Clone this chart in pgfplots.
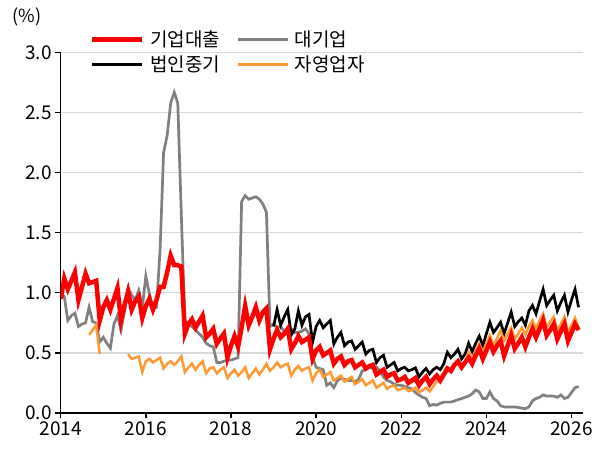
\documentclass[border=0pt]{standalone}
\usepackage{fontspec}
\setmainfont{Noto Sans CJK KR}
\usepackage{pgfplots}
\usepackage{pgfplotstable}
\pgfplotsset{compat=1.18}
\usetikzlibrary{calc}

\definecolor{gridgray}{RGB}{217,217,217}
\definecolor{lineorange}{RGB}{255,153,51}
\definecolor{linegray}{RGB}{128,128,128}

% month index m (0 = Jan 2014), delinquency rate in %
\pgfplotstableread{
m v
0 0.95
1 1.12
2 1.03
3 1.10
4 1.17
5 0.94
6 1.05
7 1.16
8 1.08
9 1.09
10 1.10
11 0.77
12 0.88
13 0.94
14 0.86
15 0.95
16 1.04
17 0.77
18 0.90
19 1.01
20 0.86
21 0.93
22 0.97
23 0.79
24 0.89
25 0.95
26 0.86
27 0.94
28 1.05
29 1.05
30 1.17
31 1.31
32 1.23
33 1.23
34 1.22
35 0.66
36 0.74
37 0.78
38 0.71
39 0.76
40 0.81
41 0.63
42 0.66
43 0.70
44 0.575
45 0.62
46 0.66
47 0.46
48 0.56
49 0.64
50 0.55
51 0.71
52 0.89
53 0.73
54 0.80
55 0.88
56 0.77
57 0.84
58 0.87
59 0.53
60 0.62
61 0.69
62 0.63
63 0.66
64 0.70
65 0.53
66 0.58
67 0.64
68 0.59
69 0.61
70 0.63
71 0.45
72 0.52
73 0.55
74 0.48
75 0.50
76 0.52
77 0.41
78 0.45
79 0.47
80 0.40
81 0.43
82 0.44
83 0.38
84 0.40
85 0.42
86 0.37
87 0.39
88 0.40
89 0.32
90 0.34
91 0.36
92 0.30
93 0.32
94 0.33
95 0.27
96 0.28
97 0.30
98 0.25
99 0.27
100 0.29
101 0.23
102 0.27
103 0.30
104 0.24
105 0.28
106 0.31
107 0.27
108 0.32
109 0.37
110 0.35
111 0.40
112 0.43
113 0.38
114 0.42
115 0.46
116 0.41
117 0.48
118 0.535
119 0.45
120 0.52
121 0.59
122 0.51
123 0.56
124 0.60
125 0.475
126 0.56
127 0.645
128 0.535
129 0.58
130 0.63
131 0.55
132 0.63
133 0.70
134 0.63
135 0.70
136 0.77
137 0.645
138 0.69
139 0.74
140 0.615
141 0.68
142 0.74
143 0.60
144 0.67
145 0.74
146 0.69
}\redtab

\pgfplotstableread{
m v
0 0.99
1 0.97
2 0.77
3 0.81
4 0.83
5 0.72
6 0.74
7 0.75
8 0.88
9 0.76
10 0.75
11 0.59
12 0.63
13 0.58
14 0.54
15 0.74
16 0.81
17 0.69
18 0.85
19 1.04
20 0.98
21 0.94
22 1.02
23 0.88
24 1.14
25 0.99
26 0.88
27 0.88
28 1.35
29 2.17
30 2.31
31 2.58
32 2.67
33 2.58
34 1.65
35 0.77
36 0.74
37 0.72
38 0.69
39 0.66
40 0.63
41 0.58
42 0.56
43 0.55
44 0.42
45 0.42
46 0.43
47 0.44
48 0.44
49 0.45
50 0.46
51 1.76
52 1.81
53 1.78
54 1.79
55 1.80
56 1.78
57 1.74
58 1.67
59 0.72
60 0.74
61 0.71
62 0.72
63 0.68
64 0.66
65 0.70
66 0.67
67 0.67
68 0.68
69 0.70
70 0.66
71 0.46
72 0.38
73 0.37
74 0.36
75 0.23
76 0.25
77 0.21
78 0.27
79 0.29
80 0.28
81 0.27
82 0.27
83 0.26
84 0.28
85 0.35
86 0.36
87 0.38
88 0.37
89 0.38
90 0.35
91 0.30
92 0.27
93 0.26
94 0.24
95 0.23
96 0.23
97 0.22
98 0.21
99 0.20
100 0.17
101 0.15
102 0.13
103 0.12
104 0.06
105 0.07
106 0.065
107 0.08
108 0.09
109 0.09
110 0.09
111 0.10
112 0.11
113 0.12
114 0.13
115 0.14
116 0.16
117 0.19
118 0.175
119 0.12
120 0.12
121 0.175
122 0.12
123 0.10
124 0.06
125 0.05
126 0.05
127 0.05
128 0.05
129 0.045
130 0.04
131 0.035
132 0.05
133 0.10
134 0.12
135 0.13
136 0.15
137 0.14
138 0.14
139 0.14
140 0.13
141 0.15
142 0.12
143 0.13
144 0.17
145 0.21
146 0.22
}\graytab

\pgfplotstableread{
m v
60 0.72
61 0.86
62 0.73
63 0.80
64 0.86
65 0.65
66 0.70
67 0.85
68 0.73
69 0.80
70 0.82
71 0.59
72 0.72
73 0.77
74 0.71
75 0.74
76 0.77
77 0.575
78 0.63
79 0.67
80 0.56
81 0.59
82 0.60
83 0.53
84 0.56
85 0.59
86 0.49
87 0.52
88 0.53
89 0.42
90 0.46
91 0.48
92 0.38
93 0.40
94 0.42
95 0.35
96 0.37
97 0.38
98 0.35
99 0.36
100 0.375
101 0.30
102 0.34
103 0.37
104 0.325
105 0.36
106 0.38
107 0.36
108 0.41
109 0.505
110 0.46
111 0.49
112 0.53
113 0.45
114 0.49
115 0.58
116 0.51
117 0.58
118 0.64
119 0.56
120 0.66
121 0.755
122 0.67
123 0.71
124 0.755
125 0.66
126 0.75
127 0.84
128 0.72
129 0.76
130 0.79
131 0.73
132 0.85
133 0.895
134 0.825
135 0.93
136 1.03
137 0.895
138 0.94
139 0.98
140 0.85
141 0.92
142 0.98
143 0.84
144 0.94
145 1.03
146 0.88
}\blacktab

\pgfplotstableread{
m v
8 0.65
9 0.69
10 0.73
11 0.49
15 nan
19 0.49
20 0.45
21 0.46
22 0.47
23 0.34
24 0.43
25 0.45
26 0.42
27 0.44
28 0.46
29 0.37
30 0.41
31 0.43
32 0.40
33 0.43
34 0.47
35 0.34
36 0.38
37 0.41
38 0.36
39 0.40
40 0.43
41 0.33
42 0.37
43 0.38
44 0.33
45 0.36
46 0.38
47 0.29
48 0.33
49 0.36
50 0.31
51 0.34
52 0.38
53 0.29
54 0.33
55 0.37
56 0.32
57 0.36
58 0.41
59 0.35
60 0.38
61 0.42
62 0.38
63 0.40
64 0.41
65 0.31
66 0.36
67 0.39
68 0.35
69 0.37
70 0.38
71 0.27
72 0.33
73 0.36
74 0.30
75 0.32
76 0.34
77 0.27
78 0.29
79 0.31
80 0.26
81 0.28
82 0.30
83 0.24
84 0.26
85 0.28
86 0.23
87 0.25
88 0.27
89 0.21
90 0.23
91 0.25
92 0.20
93 0.22
94 0.23
95 0.19
96 0.20
97 0.21
98 0.18
99 0.19
100 0.21
101 0.17
102 0.19
103 0.21
104 0.18
105 0.22
106 0.26
107 0.27
108 0.31
109 0.36
110 0.36
111 0.39
112 0.42
113 0.40
114 0.43
115 0.505
116 0.45
117 0.52
118 0.575
119 0.505
120 0.58
121 0.645
122 0.56
123 0.62
124 0.685
125 0.60
126 0.66
127 0.71
128 0.615
129 0.66
130 0.71
131 0.655
132 0.72
133 0.77
134 0.70
135 0.77
136 0.825
137 0.71
138 0.76
139 0.80
140 0.685
141 0.74
142 0.80
143 0.67
144 0.73
145 0.79
146 0.70
}\orangetab

\begin{document}
\begin{tikzpicture}
\begin{axis}[
    name=ax,
    scale only axis,
    width=522pt, height=360pt,
    xmin=2014, xmax=2026.27,
    ymin=0, ymax=3,
    axis x line*=bottom, axis y line*=left,
    axis line style={black, line width=1.3pt},
    xtick={2014,2016,...,2026},
    ytick={0,0.5,1,1.5,2,2.5,3},
    ymajorgrids,
    grid style={gridgray, line width=1.3pt},
    tick align=outside,
    major tick length=5.5pt,
    tick style={black, line width=1.3pt},
    /pgf/number format/assume math mode=true,
    x tick label style={/pgf/number format/1000 sep={}},
    y tick label style={/pgf/number format/.cd, fixed, fixed zerofill, precision=1},
    tick label style={font=\fontsize{19}{21}\selectfont},
    unbounded coords=jump,
    legend columns=2,
    legend cell align=left,
    legend image code/.code={\draw[#1] (0pt,0pt) -- (50pt,0pt);},
    legend style={draw=none, fill=none, inner sep=0pt,
        at={(axis description cs:0.056,1.066)}, anchor=north west,
        font=\fontsize{19}{21}\selectfont,
        nodes={inner sep=1.5pt},
        row sep=5pt,
        /tikz/every odd column/.append style={column sep=4pt},
        /tikz/every even column/.append style={column sep=15pt}},
]
\addlegendimage{red, line width=4.5pt}
\addlegendentry{기업대출}
\addlegendimage{linegray, line width=2.7pt}
\addlegendentry{대기업}
\addlegendimage{black, line width=2.7pt}
\addlegendentry{법인중기}
\addlegendimage{lineorange, line width=2.5pt}
\addlegendentry{자영업자}

\addplot[forget plot, linegray, line width=2.7pt] table[x expr=2014+\thisrow{m}/12, y=v] {\graytab};
\addplot[forget plot, black, line width=2.7pt] table[x expr=2014+\thisrow{m}/12, y=v] {\blacktab};
\addplot[forget plot, lineorange, line width=2.5pt] table[x expr=2014+\thisrow{m}/12, y=v] {\orangetab};
\addplot[forget plot, red, line width=4.5pt] table[x expr=2014+\thisrow{m}/12, y=v] {\redtab};
\end{axis}
\node[font=\fontsize{18}{20}\selectfont] at ($(ax.north west)+(-34pt,36pt)$) {(\%)};
\pgfresetboundingbox
\path[use as bounding box] ($(ax.south west)+(-60.7pt,-37.3pt)$) rectangle ($(ax.north east)+(15pt,52.7pt)$);
\end{tikzpicture}
\end{document}
